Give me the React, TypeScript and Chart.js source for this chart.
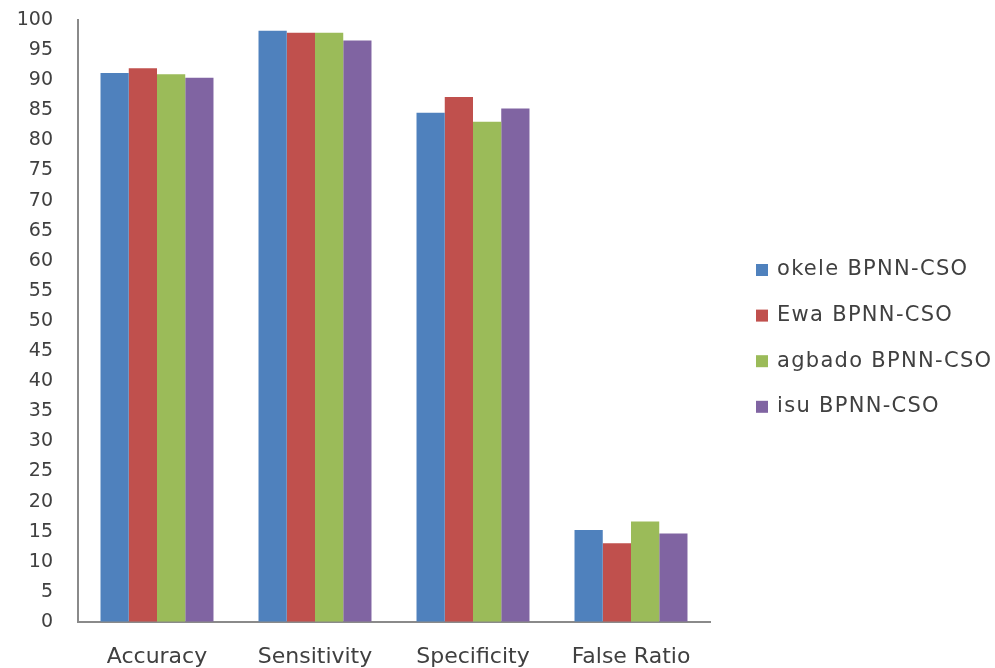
import React, { useEffect, useRef } from "react";
import { Chart, registerables } from "chart.js";

Chart.register(...registerables);

const categories = ["Accuracy", "Sensitivity", "Specificity", "False Ratio"];
const seriesNames = ["okele BPNN-CSO", "Ewa BPNN-CSO", "agbado BPNN-CSO", "isu BPNN-CSO"];
const okele = [91.2, 98.2, 84.6, 15.3];
const ewa = [92.0, 97.9, 87.2, 13.1];
const agbado = [91.0, 97.9, 83.1, 16.7];
const isu = [90.4, 96.6, 85.3, 14.7];
const seriesValues = [okele, ewa, agbado, isu];
const seriesColors = ["#4F81BD", "#C0504D", "#9BBB59", "#8064A2"];
const yMin = 0;
const yMax = 100;
const yStep = 5;

const FONT = "'DejaVu Sans', sans-serif";
const TEXT = "#404040";

const legendPlugin = {
  id: "sideLegend",
  afterDraw(chart: any) {
    const ctx = chart.ctx;
    ctx.save();
    ctx.font = `21px ${FONT}`;
    ctx.textBaseline = "middle";
    ctx.textAlign = "left";
    try { (ctx as any).letterSpacing = "1.3px"; } catch (e) {}
    chart.data.datasets.forEach((ds: any, i: number) => {
      const y = 270 + i * 45.6;
      ctx.fillStyle = ds.backgroundColor;
      ctx.fillRect(756, y - 6, 12, 12);
      ctx.fillStyle = TEXT;
      ctx.fillText(ds.label, 777, y);
    });
    ctx.restore();
  },
};

export default function App() {
  const ref = useRef<HTMLCanvasElement | null>(null);
  useEffect(() => {
    document.body.style.margin = "0";
    const canvas = ref.current!;
    const chart = new Chart(canvas, {
      type: "bar",
      data: {
        labels: categories,
        datasets: seriesNames.map((name, i) => ({
          label: name,
          data: seriesValues[i],
          backgroundColor: seriesColors[i],
          borderWidth: 0,
          categoryPercentage: 0.715,
          barPercentage: 1,
        })),
      },
      options: {
        responsive: false,
        animation: false,
        layout: { padding: { left: 8, right: 285, top: 20, bottom: 0 } },
        plugins: {
          legend: { display: false },
          tooltip: { enabled: false },
        },
        scales: {
          x: {
            grid: { display: false, drawTicks: false },
            border: { display: true, color: "#8a8a8a", width: 2 },
            ticks: {
              color: TEXT,
              font: { family: FONT, size: 22 },
              padding: 22,
              maxRotation: 0,
            },
            afterFit: (scale: any) => {
              scale.height = 46;
            },
          },
          y: {
            min: yMin,
            max: yMax,
            grid: {
              display: true,
              drawOnChartArea: false,
              drawTicks: true,
              tickLength: 22,
              color: "rgba(0,0,0,0)",
            },
            border: { display: true, color: "#8a8a8a", width: 2 },
            ticks: {
              stepSize: yStep,
              color: TEXT,
              font: { family: FONT, size: 19 },
              padding: 3,
            },
            afterFit: (scale: any) => {
              scale.width = 70;
            },
          },
        },
      },
      plugins: [legendPlugin],
    });
    return () => chart.destroy();
  }, []);
  return <canvas ref={ref} width={995} height={668} style={{ display: "block" }} />;
}
